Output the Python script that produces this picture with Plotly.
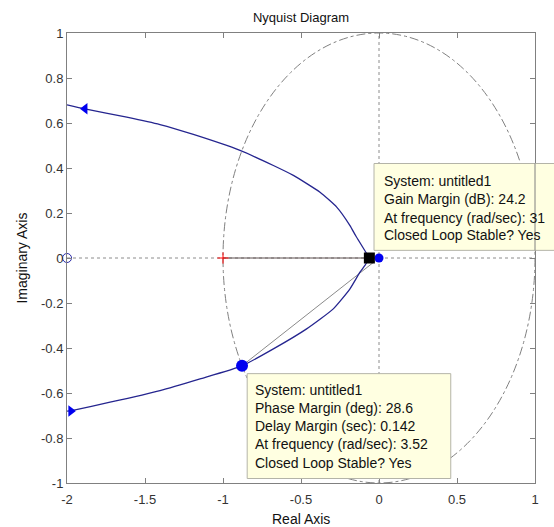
import plotly.graph_objects as go

# ---- data ----
upper_re = [-2.0, -1.885, -1.617, -1.404, -1.190, -0.891, -0.677, -0.549, -0.378, -0.271, -0.186, -0.150, -0.0617]
upper_im = [0.681, 0.663, 0.626, 0.593, 0.549, 0.478, 0.411, 0.367, 0.292, 0.226, 0.144, 0.100, 0.0]
lower_re = [-2.0, -1.97, -1.724, -1.404, -1.147, -0.878, -0.677, -0.464, -0.293, -0.186, -0.122, -0.09, -0.0617]
lower_im = [-0.681, -0.678, -0.641, -0.589, -0.537, -0.479, -0.404, -0.315, -0.226, -0.137, -0.063, -0.033, 0.0]

arrow_up = (-1.885, 0.663)
arrow_low = (-1.975, -0.680)
gm_point = (-0.0617, 0.0)
pm_point = (-0.878, -0.479)
origin_pt = (0.0, 0.0)
critical = (-1.0, 0.0)
open_circle = (-2.0, 0.0)

x_ticks = [-2, -1.5, -1, -0.5, 0, 0.5, 1]
y_ticks = [-1, -0.8, -0.6, -0.4, -0.2, 0, 0.2, 0.4, 0.6, 0.8, 1]

gm_tip = ["System: untitled1", "Gain Margin (dB): 24.2", "At frequency (rad/sec): 31", "Closed Loop Stable? Yes"]
pm_tip = ["System: untitled1", "Phase Margin (deg): 28.6", "Delay Margin (sec): 0.142",
          "At frequency (rad/sec): 3.52", "Closed Loop Stable? Yes"]

FONT = "Liberation Sans, Arial, sans-serif"
LINE_BLUE = "#25258f"
MARK_BLUE = "#0000f0"

fig = go.Figure()

fig.add_trace(go.Scatter(x=[critical[0], gm_point[0]], y=[critical[1], gm_point[1]], mode="lines",
                         line=dict(color="#5e5050", width=1), hoverinfo="skip"))
fig.add_trace(go.Scatter(x=[origin_pt[0], pm_point[0]], y=[origin_pt[1], pm_point[1]], mode="lines",
                         line=dict(color="#8a8a8a", width=1), hoverinfo="skip"))
fig.add_trace(go.Scatter(x=upper_re, y=upper_im, mode="lines",
                         line=dict(color=LINE_BLUE, width=1.3, shape="spline", smoothing=0.5),
                         hoverinfo="skip"))
fig.add_trace(go.Scatter(x=lower_re, y=lower_im, mode="lines",
                         line=dict(color=LINE_BLUE, width=1.3, shape="spline", smoothing=0.5),
                         hoverinfo="skip"))
fig.add_trace(go.Scatter(x=[arrow_up[0]], y=[arrow_up[1]], mode="markers",
                         marker=dict(symbol="triangle-left", size=10, color=MARK_BLUE), hoverinfo="skip"))
fig.add_trace(go.Scatter(x=[arrow_low[0]], y=[arrow_low[1]], mode="markers",
                         marker=dict(symbol="triangle-right", size=10, color=MARK_BLUE), hoverinfo="skip"))
fig.add_trace(go.Scatter(x=[critical[0]], y=[critical[1]], mode="markers",
                         marker=dict(symbol="cross-thin", size=8, color="red", line=dict(color="red", width=1)),
                         hoverinfo="skip"))
fig.add_trace(go.Scatter(x=[open_circle[0]], y=[open_circle[1]], mode="markers", cliponaxis=False,
                         marker=dict(symbol="circle-open", size=9, color="#2828a8", line=dict(width=1)),
                         hoverinfo="skip"))
fig.add_trace(go.Scatter(x=[origin_pt[0]], y=[origin_pt[1]], mode="markers",
                         marker=dict(symbol="circle", size=9, color=MARK_BLUE), hoverinfo="skip"))
fig.add_trace(go.Scatter(x=[gm_point[0]], y=[gm_point[1]], mode="markers",
                         marker=dict(symbol="square", size=11, color="black"), hoverinfo="skip"))
fig.add_trace(go.Scatter(x=[pm_point[0]], y=[pm_point[1]], mode="markers",
                         marker=dict(symbol="circle", size=12, color=MARK_BLUE), hoverinfo="skip"))

shapes = [
    dict(type="circle", xref="x", yref="y", x0=-1, x1=1, y0=-1, y1=1, layer="below",
         line=dict(color="#808080", width=1, dash="dashdot")),
    dict(type="line", xref="x", yref="y", x0=-2, x1=1, y0=0, y1=0, layer="below",
         line=dict(color="#8c8c8c", width=1, dash="dot")),
    dict(type="line", xref="x", yref="y", x0=0, x1=0, y0=-1, y1=1, layer="below",
         line=dict(color="#8c8c8c", width=1, dash="dot")),
    dict(type="rect", xref="paper", yref="paper", x0=0.656, x1=1.06, y0=0.517, y1=0.710, layer="above",
         fillcolor="#ffffe1", line=dict(color="#b4b4a8", width=1)),
    dict(type="line", xref="paper", yref="paper", x0=1, x1=1, y0=0.517, y1=0.710, layer="above",
         line=dict(color="#808080", width=1)),
    dict(type="rect", xref="paper", yref="paper", x0=0.385, x1=0.820, y0=0.010, y1=0.243, layer="above",
         fillcolor="#ffffe1", line=dict(color="#b4b4a8", width=1)),
]

TIP_FONT = dict(family=FONT, size=14, color="#111")
annotations = []
gm_y = [0.672, 0.632, 0.590, 0.550]
for t, yy in zip(gm_tip, gm_y):
    annotations.append(dict(text=t, xref="paper", yref="paper", x=0.673, y=yy, xanchor="left",
                            yanchor="middle", showarrow=False, font=TIP_FONT))
pm_y = [0.207, 0.167, 0.126, 0.0856, 0.0449]
for t, yy in zip(pm_tip, pm_y):
    annotations.append(dict(text=t, xref="paper", yref="paper", x=0.397, y=yy, xanchor="left",
                            yanchor="middle", showarrow=False, font=TIP_FONT))
annotations.append(dict(text="Real Axis", xref="paper", yref="paper", x=0.5, y=-0.079, xanchor="center",
                        yanchor="middle", showarrow=False, font=dict(family=FONT, size=14, color="#111")))
annotations.append(dict(text="Imaginary Axis", xref="paper", yref="paper", x=-0.097, y=0.5, xanchor="center",
                        yanchor="middle", textangle=-90, showarrow=False,
                        font=dict(family=FONT, size=14, color="#111")))

axis_common = dict(showline=True, linecolor="#808080", linewidth=1, mirror="ticks", ticks="inside",
                   ticklen=5, tickcolor="#808080", showgrid=False, zeroline=False,
                   tickfont=dict(family=FONT, size=13, color="#333"))

fig.update_layout(
    width=554, height=527,
    margin=dict(l=67, r=19, t=33, b=44, pad=0),
    paper_bgcolor="white", plot_bgcolor="white",
    showlegend=False,
    title=dict(text="Nyquist Diagram", x=0.5, xref="paper", y=1 - 17.8 / 527, yref="container",
               xanchor="center", yanchor="middle", font=dict(family=FONT, size=13, color="#111")),
    xaxis=dict(range=[-2, 1], tickvals=x_ticks, ticktext=[f"{v:g}" for v in x_ticks],
               ticklabelstandoff=4, **axis_common),
    yaxis=dict(range=[-1, 1], tickvals=y_ticks, ticktext=[f"{v:g}" for v in y_ticks], **axis_common),
    shapes=shapes,
    annotations=annotations,
)

fig.write_html("out.html")
